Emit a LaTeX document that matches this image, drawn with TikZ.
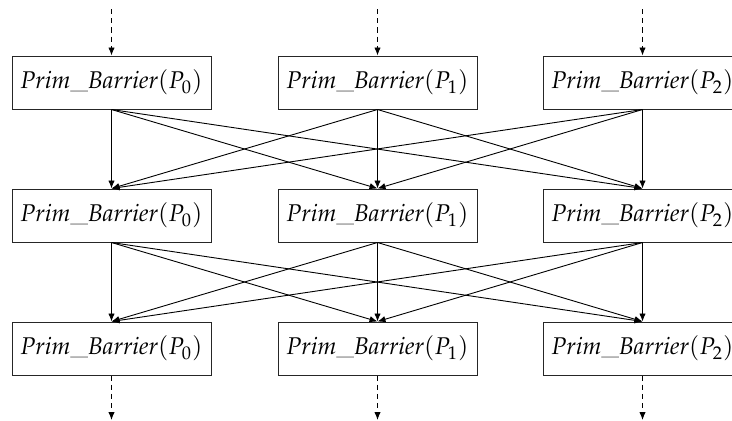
\documentclass[tikz,border=0pt]{standalone}
\usepackage{mathpazo}
\usetikzlibrary{arrows.meta}
\tikzset{
  pbox/.style={draw=black!85, line width=0.5pt, minimum width=99.5pt, minimum height=26.5pt, inner sep=0pt, font=\fontsize{12.1}{14}\selectfont},
  conn/.style={line width=0.45pt, -{Latex[length=4pt,width=3.2pt]}},
  dconn/.style={line width=0.45pt, dash pattern=on 2.6pt off 2pt, -{Latex[length=4pt,width=3.2pt]}}
}
\newcommand{\pb}[1]{$\mathit{Prim\_Barrier}(P_{#1})$}
\begin{document}
\begin{tikzpicture}[x=0.5pt,y=-0.5pt]
\useasboundingbox (0,0) rectangle (732,420);
\clip (0,0) rectangle (732,420);
\foreach \r/\yy in {1/82.5,2/215.5,3/348.5}{
  \foreach \c/\xx in {0/111.5,1/377.5,2/642.5}{
    \node[pbox] (b\r\c) at (\xx,\yy) {\pb{\c}};
  }
}
\foreach \c/\xx in {0/111.5,1/377.5,2/642.5}{
  \coordinate (t\c) at (\xx,9);
  \coordinate (e\c) at (\xx,420);
  \draw[dconn] (t\c) -- (b1\c.north);
  \draw[dconn] (b3\c.south) -- (e\c);
}
\foreach \a/\b in {1/2,2/3}{
  \foreach \i in {0,1,2}{
    \foreach \j in {0,1,2}{
      \draw[conn] (b\a\i.south) -- (b\b\j.north);
    }
  }
}
\end{tikzpicture}
\end{document}
